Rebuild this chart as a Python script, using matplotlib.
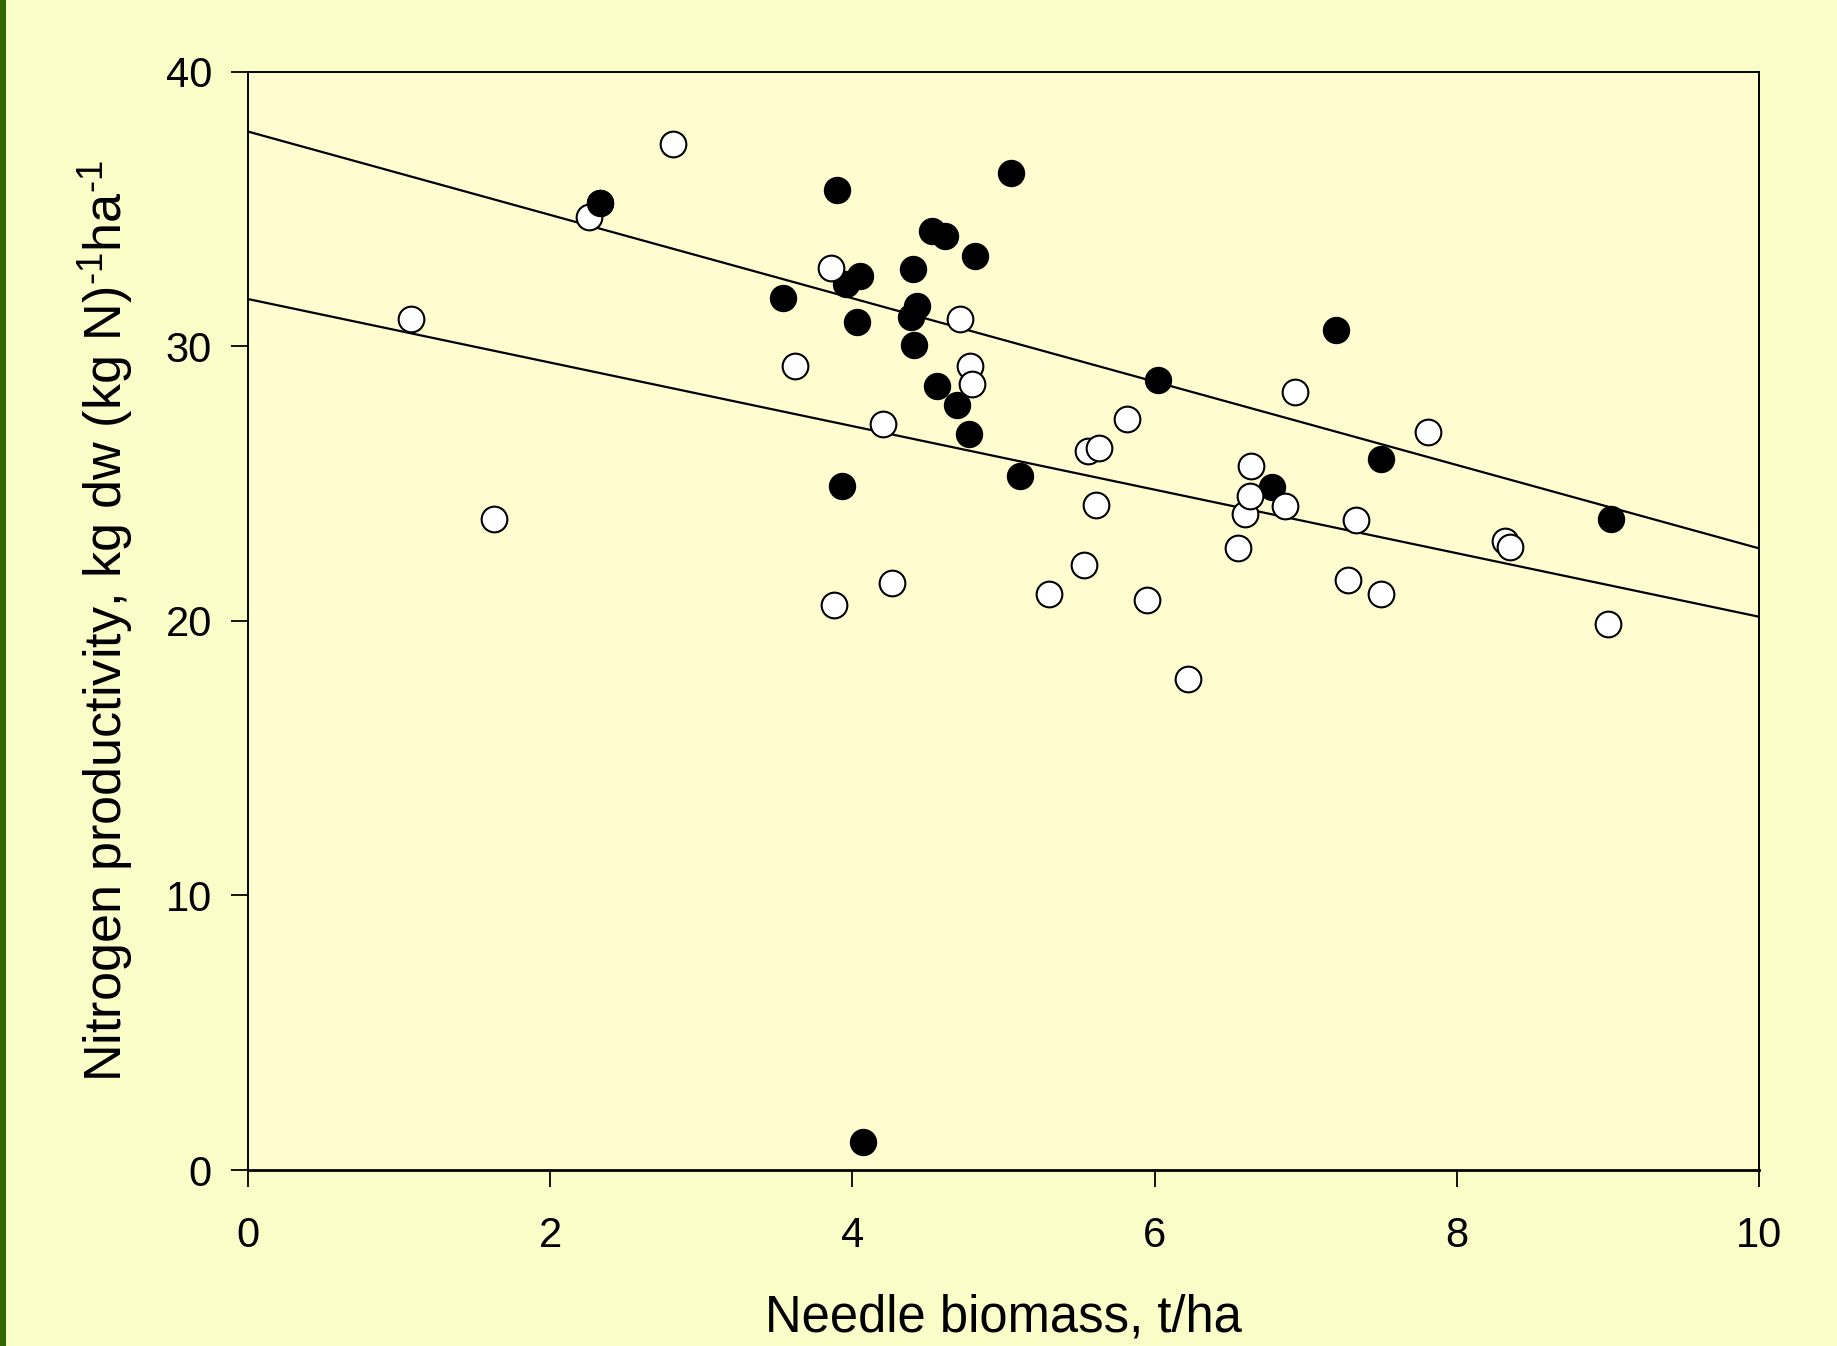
import matplotlib
matplotlib.use("Agg")
import matplotlib.pyplot as plt
from matplotlib.patches import Rectangle

plt.rcParams['font.family'] = ['Liberation Sans', 'DejaVu Sans']
plt.rcParams['mathtext.fontset'] = 'custom'
plt.rcParams['mathtext.rm'] = 'Liberation Sans'
plt.rcParams['mathtext.it'] = 'Liberation Sans:italic'

# Open circles
open_x = [1.08, 1.63, 2.26, 2.81, 3.62, 3.86, 3.88, 4.20, 4.26, 4.71, 4.78, 4.79,
          5.30, 5.53, 5.56, 5.63, 5.61, 5.82, 5.95, 6.22, 6.55, 6.60, 6.63, 6.64,
          6.86, 6.93, 7.28, 7.33, 7.50, 7.81, 8.32, 8.35, 9.00]
open_y = [30.98, 23.70, 34.70, 37.35, 29.27, 32.86, 20.56, 27.18, 21.37, 30.98, 29.27, 28.63,
          20.98, 22.05, 26.20, 26.28, 24.23, 27.35, 20.77, 17.90, 22.65, 23.89, 24.53, 25.64,
          24.19, 28.33, 21.50, 23.68, 20.98, 26.88, 22.90, 22.69, 19.90]

# Filled circles
filled_x = [2.33, 3.54, 3.90, 3.93, 3.96, 4.05, 4.03, 4.07, 4.40, 4.39, 4.43, 4.41,
            4.53, 4.61, 4.56, 4.69, 4.77, 4.81, 5.05, 5.11, 6.02, 6.78, 7.20, 7.50, 9.02]
filled_y = [35.20, 31.75, 35.68, 24.90, 32.26, 32.56, 30.90, 1.03, 32.80, 31.07, 31.45, 30.04,
            34.19, 34.00, 28.55, 27.86, 26.80, 33.30, 36.30, 25.26, 28.76, 24.87, 30.60, 25.90, 23.70]

# Regression lines (end points at x = 0 and x = 10)
line_x = [0, 10]
upper_line_y = [37.82, 22.64]
lower_line_y = [31.72, 20.15]

x_ticks = [0, 2, 4, 6, 8, 10]
y_ticks = [0, 10, 20, 30, 40]

fig = plt.figure(figsize=(18.37, 13.46), dpi=100)
fig.patch.set_facecolor('#FBFDC9')
fig.patches.append(Rectangle((0, 0), 6 / 1837, 1, transform=fig.transFigure,
                             facecolor='#336600', edgecolor='none', zorder=0))

ax = fig.add_axes([248 / 1837, 1 - 1170 / 1346, (1759 - 248) / 1837, (1170 - 71.7) / 1346])
ax.set_facecolor('#FFFDCF')

ax.plot(line_x, upper_line_y, color='black', lw=1.6, zorder=2)
ax.plot(line_x, lower_line_y, color='black', lw=1.6, zorder=2)

ax.plot(filled_x, filled_y, 'o', ms=18.5, mfc='black', mec='black', mew=1.2,
        ls='none', zorder=3, clip_on=False)
ax.plot(open_x, open_y, 'o', ms=18.5, mfc='white', mec='black', mew=1.5,
        ls='none', zorder=4, clip_on=False)
ax.plot(filled_x[:1], filled_y[:1], 'o', ms=18.5, mfc='black', mec='black', mew=1.2,
        ls='none', zorder=5)

ax.set_xlim(0, 10)
ax.set_ylim(0, 40)
ax.set_xticks(x_ticks)
ax.set_yticks(y_ticks)
ax.tick_params(direction='out', length=12, width=1.3, labelsize=30, colors='black')
ax.tick_params(axis='x', pad=21)
ax.tick_params(axis='y', pad=14)
for s in ax.spines.values():
    s.set_linewidth(1.4)
ax.spines['bottom'].set_linewidth(2.0)

ax.set_xlabel('Needle biomass, t/ha', fontsize=36.5, labelpad=27)
ax.set_ylabel(r'Nitrogen productivity, kg dw (kg N)$^{\text{-1}}$ha$^{\text{-1}}$',
              fontsize=37.5, labelpad=21)

fig.savefig('out.png', dpi=100, facecolor=fig.get_facecolor())
